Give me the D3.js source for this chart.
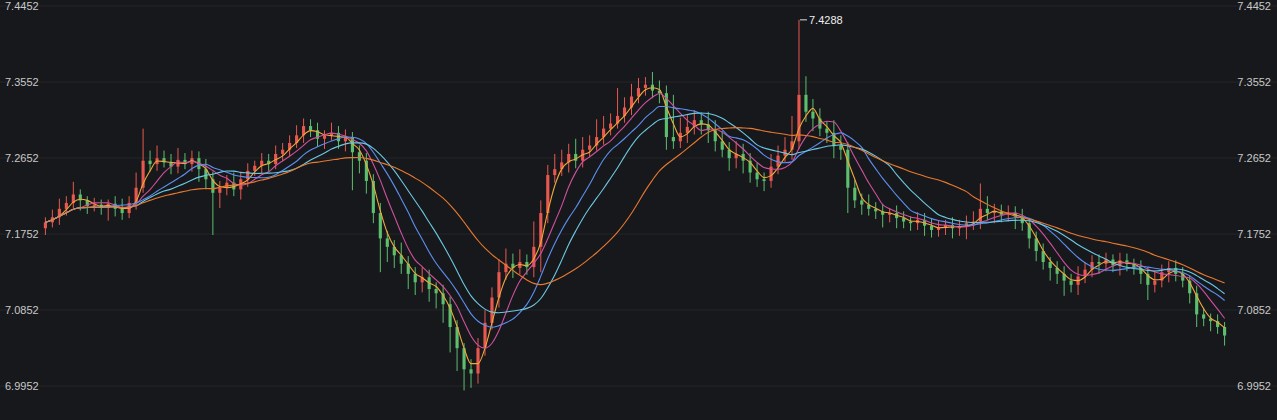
<!DOCTYPE html>
<html><head><meta charset="utf-8">
<script src="https://cdn.jsdelivr.net/npm/d3@7"></script>
<style>html,body{margin:0;background:#17181c;}svg{display:block}</style>
</head><body><svg id="c" width="1277" height="420"></svg>
<script>
const closes=[
7.189,7.195,7.205,7.212,7.222,7.215,7.208,7.210,7.206,7.211,7.205,7.200,7.212,7.230,
7.262,7.258,7.265,7.260,7.255,7.263,7.258,7.265,7.252,7.240,7.224,
7.230,7.236,7.228,7.240,7.250,7.256,7.262,7.258,7.270,7.275,7.283,7.292,7.303,
7.298,7.288,7.292,7.295,7.285,7.290,7.272,7.262,
7.238,7.200,7.170,7.160,7.150,7.140,7.128,7.118,7.124,7.110,7.105,7.092,7.065,7.040,7.015,7.010,
7.040,7.070,7.100,7.130,7.140,7.135,7.142,7.136,7.160,
7.200,7.245,7.252,7.260,7.270,7.262,7.275,7.280,7.290,7.300,7.306,7.315,7.325,7.338,7.348,7.352,
7.345,7.342,7.290,7.285,7.295,7.302,7.310,7.305,7.298,7.285,
7.275,7.265,7.270,7.262,7.248,7.240,7.238,7.255,7.268,7.275,7.285,7.340,
7.320,7.312,7.300,7.295,7.280,7.275,7.230,
7.215,7.210,7.205,7.202,7.198,7.200,7.194,7.190,7.188,7.192,7.185,7.180,7.183,7.186,7.182,7.184,7.188,7.190,7.205,7.200,7.202,7.198,7.200,7.196,7.188,7.170,
7.155,7.142,7.135,7.128,7.120,7.115,7.125,7.133,7.142,7.140,7.145,7.138,7.144,7.140,7.135,7.128,7.115,7.120,7.130,7.135,7.128,7.120,7.105,7.080,7.075,7.072,7.065,7.055];
const firstOpen=7.182;
const wickUp=[6,9,12,8,15,6,5,8,6,5,9,12,8,18,
38,12,15,9,10,14,8,9,8,12,9,
8,9,12,8,9,6,9,8,10,8,9,12,9,
8,9,6,12,8,9,6,8,
9,8,12,9,8,15,9,8,12,9,8,10,9,8,6,12,
12,15,12,15,18,12,15,9,30,
15,12,18,15,12,18,15,12,21,15,12,33,12,15,12,9,
15,12,9,50,18,15,12,9,15,12,
12,9,15,12,9,12,8,15,12,15,30,89,
22,15,12,9,15,12,9,
9,8,12,8,9,6,9,8,6,9,8,9,8,6,9,8,9,12,30,15,9,8,9,8,9,6,
8,9,6,8,9,8,12,9,8,9,8,6,9,8,6,9,8,12,9,8,9,8,6,9,8,6,8,6];
const wickDown=[8,6,9,8,6,12,9,6,8,15,9,8,6,8,
6,9,8,6,9,8,6,9,15,12,50,
18,9,8,12,9,6,9,8,6,9,8,6,9,
8,9,12,6,9,12,45,15,
15,12,40,18,15,12,18,15,12,15,18,22,30,27,25,17,
12,9,8,12,9,12,8,9,12,
30,12,9,8,12,9,8,9,6,9,8,6,8,9,8,9,
9,12,15,9,8,12,9,12,15,12,
9,15,12,15,12,9,12,8,9,8,12,9,
12,15,9,12,15,12,30,
9,12,8,9,15,9,12,8,9,8,12,9,8,9,12,9,15,8,9,8,12,9,8,15,9,12,
12,9,15,12,18,9,12,8,9,12,9,8,12,9,8,12,18,9,8,12,9,8,12,15,9,12,8,12];
const tickLabels=["7.4452","7.3552","7.2652","7.1752","7.0852","6.9952"];
const maPeriods=[3,6,10,14,25];
const maColors=["#f0a83a","#d0509e","#5d8ff0","#6cc8e2","#e8782e"];
const maxLabel="7.4288";

const data=closes.map((c,i)=>{const o=i?closes[i-1]:firstOpen;return {i,o,c,h:Math.max(o,c)+wickUp[i]/1000,l:Math.min(o,c)-wickDown[i]/1000};});
data[108].h=+maxLabel;
const svg=d3.select("#c");
const x=d3.scaleBand().domain(d3.range(closes.length)).range([40,1230]).padding(0.55);
const y=d3.scaleLinear().domain([6.9952,7.4452]).range([386,6]);
svg.append("g").selectAll("line").data(tickLabels).join("line")
 .attr("x1",0).attr("x2",1277).attr("y1",d=>y(+d)).attr("y2",d=>y(+d)).attr("stroke","#222428");
const fnt="Helvetica, Arial, 'Liberation Sans', sans-serif";
svg.append("g").selectAll("text").data(tickLabels).join("text").attr("x",5).attr("y",d=>y(+d)+4)
 .text(d=>d).attr("fill","#c8c8c8").attr("font-size",11).attr("font-family",fnt);
svg.append("g").selectAll("text").data(tickLabels).join("text").attr("x",1271).attr("text-anchor","end").attr("y",d=>y(+d)+4)
 .text(d=>d).attr("fill","#c8c8c8").attr("font-size",11).attr("font-family",fnt);
const up="#e8584f",dn="#5cbf6e";
const g=svg.append("g");
g.selectAll("line").data(data).join("line").attr("x1",d=>x(d.i)+x.bandwidth()/2).attr("x2",d=>x(d.i)+x.bandwidth()/2)
 .attr("y1",d=>y(d.h)).attr("y2",d=>y(d.l)).attr("stroke",d=>d.c>=d.o?up:dn).attr("stroke-width",1);
g.selectAll("rect").data(data).join("rect").attr("x",d=>x(d.i)).attr("width",x.bandwidth())
 .attr("y",d=>y(Math.max(d.o,d.c))).attr("height",d=>Math.max(1,Math.abs(y(d.o)-y(d.c)))).attr("fill",d=>d.c>=d.o?up:dn);
maPeriods.forEach((p,k)=>{
 const ma=closes.map((c,i)=>d3.mean(closes.slice(Math.max(0,i-p+1),i+1)));
 svg.append("path").datum(ma).attr("fill","none").attr("stroke",maColors[k]).attr("stroke-width",1.1)
  .attr("d",d3.line().x((d,i)=>x(i)+x.bandwidth()/2).y(d=>y(d)).curve(d3.curveMonotoneX));
});
const mx=x(108)+x.bandwidth()/2, my=y(+maxLabel);
svg.append("line").attr("x1",mx+1).attr("x2",mx+8).attr("y1",my).attr("y2",my).attr("stroke","#ddd");
svg.append("text").attr("x",mx+10).attr("y",my+4).text(maxLabel).attr("fill","#eee").attr("font-size",11).attr("font-family",fnt);
</script></body></html>
